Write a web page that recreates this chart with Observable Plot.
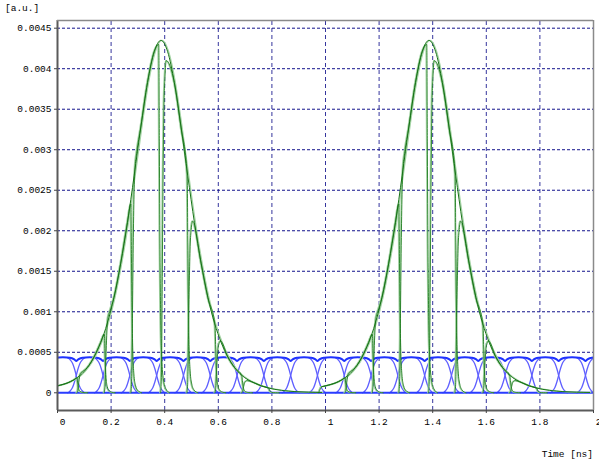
<!DOCTYPE html>
<html><head><meta charset="utf-8">
<script src="https://cdn.jsdelivr.net/npm/d3@7"></script>
<script src="https://cdn.jsdelivr.net/npm/@observablehq/plot@0.6"></script>
<style>
html,body{margin:0;padding:0;background:#fff;}
#chart{position:relative;width:599px;height:464px;font-family:"Liberation Mono",monospace;}
.lbl{position:absolute;font-size:9.5px;color:#000;white-space:nowrap;}
</style></head><body><div id="chart"></div>
<script>
// ---------- data ----------
const U = 1e-3; // values below in units of 0.001 a.u.
const xTicks = [0, 0.2, 0.4, 0.6, 0.8, 1, 1.2, 1.4, 1.6, 1.8, 2];
const xTickLabels = ["0", "0.2", "0.4", "0.6", "0.8", "1", "1.2", "1.4", "1.6", "1.8", "2"];
const yTicks = [0, 0.0005, 0.001, 0.0015, 0.002, 0.0025, 0.003, 0.0035, 0.004, 0.0045];
const yTickLabels = ["0", "0.0005", "0.001", "0.0015", "0.002", "0.0025", "0.003", "0.0035", "0.004", "0.0045"];

// green optical pulse envelope (time offset from pulse centre, ns) and power
const pulseCenters = [0.386, 1.386];
const envDt = [-0.40, -0.375, -0.35, -0.325, -0.30, -0.275, -0.25, -0.225, -0.20, -0.175, -0.15, -0.125, -0.10, -0.075, -0.05, -0.025, 0,
               0.025, 0.05, 0.075, 0.10, 0.125, 0.15, 0.175, 0.20, 0.225, 0.25, 0.275, 0.30, 0.325, 0.35, 0.375, 0.40, 0.45, 0.50, 0.55, 0.60];
const envV  = [0.075, 0.095, 0.12, 0.16, 0.22, 0.31, 0.44, 0.62, 0.86, 1.18, 1.60, 2.10, 2.68, 3.28, 3.83, 4.21, 4.35,
               4.21, 3.83, 3.28, 2.68, 2.10, 1.60, 1.18, 0.86, 0.62, 0.44, 0.31, 0.22, 0.16, 0.12, 0.085, 0.06, 0.03, 0.015, 0.008, 0.004];

// gated slices of the pulse (offsets from pulse centre)
const sliceStart  = [-0.411, -0.311, -0.209, -0.109, 0.002, 0.100, 0.204, 0.304];
const sliceEnd    = [-0.313, -0.211, -0.112, -0.008, 0.098, 0.202, 0.302, 0.402];
const sliceStartV = [0.08, 0.26, 1.00, 2.95, 4.10, 2.12, 0.64, 0.15];
const sliceEndV   = [0.185, 0.72, 2.33, 4.30, 2.70, 0.83, 0.21, 0.06];
const riseDt   = [-0.003, 0, 0.003, 0.006, 0.009, 0.013, 0.018];
const riseFrac = [0, 0.06, 0.35, 0.65, 0.85, 0.95, 1];
const fallDt   = [0, 0.002, 0.004, 0.007, 0.011, 0.017, 0.026, 0.04];
const fallFrac = [1, 0.72, 0.45, 0.22, 0.10, 0.04, 0.012, 0];

// blue clock-like signal: bit crossings, edge shape and top level
const bitCrossings = [-0.03, 0.07, 0.17, 0.27, 0.37, 0.47, 0.57, 0.67, 0.77, 0.87, 0.97,
                      1.07, 1.17, 1.27, 1.37, 1.47, 1.57, 1.67, 1.77, 1.87, 1.97];
const edgeDt = [-0.032, -0.028, -0.022, -0.014, -0.007, 0, 0.007, 0.014, 0.022, 0.028, 0.032];
const edgeV  = [0, 0.006, 0.025, 0.065, 0.13, 0.215, 0.30, 0.365, 0.405, 0.424, 0.43];
const topDt = [0, 0.004, 0.009, 0.016, 0.025, 0.035, 0.05, 0.065, 0.075, 0.084, 0.091, 0.096];
const topV  = [0.392, 0.402, 0.415, 0.426, 0.433, 0.437, 0.438, 0.437, 0.433, 0.426, 0.415, 0.402];

// ---------- build rows ----------
const envRows = [], sliceRows = [];
pulseCenters.forEach((c, p) => {
  envDt.forEach((d, i) => envRows.push({x: c + d, y: envV[i] * U, id: "e" + p}));
  sliceStart.forEach((s, j) => {
    const id = "s" + p + "_" + j, e = sliceEnd[j];
    riseDt.forEach((d, k) => sliceRows.push({x: c + s + d, y: riseFrac[k] * sliceStartV[j] * U, id}));
    envDt.forEach((d, i) => { if (d > s + 0.025 && d < e - 0.002) sliceRows.push({x: c + d, y: envV[i] * U, id}); });
    fallDt.forEach((d, k) => sliceRows.push({x: c + e + d, y: fallFrac[k] * sliceEndV[j] * U, id}));
  });
});
const edgeRows = [];
bitCrossings.forEach((c, b) => {
  edgeDt.forEach((d, k) => edgeRows.push({x: c + d, y: edgeV[k] * U, id: "r" + b}));
  edgeDt.forEach((d, k) => edgeRows.push({x: c + d, y: edgeV[edgeV.length - 1 - k] * U, id: "f" + b}));
});
const topRows = [];
bitCrossings.forEach(c => topDt.forEach((d, k) => topRows.push({x: c + d, y: topV[k] * U})));
topRows.push({x: 2.07, y: topV[0] * U});

const shift = (rows, dx) => rows.map(r => ({...r, x: r.x + dx}));

const xMin = 0, xMax = 2, yMin = -0.0002185, yMax = 0.004595;
const fmtX = d => xTickLabels[xTicks.indexOf(d)];
const fmtY = d => yTickLabels[yTicks.indexOf(d)];
const gridC = "#12128c";

const chart = Plot.plot({
  width: 599, height: 464,
  marginLeft: 57, marginRight: 6, marginTop: 20, marginBottom: 54,
  style: {fontFamily: "'Liberation Mono', monospace", fontSize: "9.5px", color: "#000", background: "#fff"},
  x: {domain: [xMin, xMax], label: null},
  y: {domain: [yMin, yMax], label: null},
  marks: [
    Plot.ruleY(yTicks.slice(1), {stroke: gridC, strokeWidth: 1, strokeDasharray: "3,2", x1: xMin, x2: xMax}),
    Plot.ruleX(xTicks.slice(1, -1), {stroke: gridC, strokeOpacity: 0.85, strokeWidth: 1, strokeDasharray: "4,3", y1: yMin, y2: yMax}),
    // blue signal
    Plot.line(edgeRows, {x: "x", y: "y", z: "id", stroke: "#5f5fff", strokeWidth: 1.3, curve: "monotone-x", clip: true}),
    Plot.line(topRows, {x: "x", y: "y", stroke: "#1e32ff", strokeWidth: 2, curve: "monotone-x", clip: true}),
    Plot.ruleY([0], {stroke: "#2a3cff", strokeWidth: 2, x1: xMin, x2: xMax}),
    // green pulses
    Plot.line(shift(sliceRows, -0.003), {x: "x", y: "y", z: "id", stroke: "#a3d3a3", strokeWidth: 1.3, curve: "monotone-x", clip: true}),
    Plot.line(shift(envRows, 0.004), {x: "x", y: "y", z: "id", stroke: "#a3d3a3", strokeWidth: 1.2, curve: "monotone-x", clip: true}),
    Plot.line(sliceRows, {x: "x", y: "y", z: "id", stroke: "#1f7d1f", strokeWidth: 0.9, curve: "monotone-x", clip: true}),
    Plot.line(envRows, {x: "x", y: "y", z: "id", stroke: "#177217", strokeWidth: 1, curve: "monotone-x", clip: true}),
    // frame
    Plot.ruleX([xMin], {stroke: "#5a5a5a", strokeWidth: 2, y1: yMin, y2: yMax}),
    Plot.ruleY([yMin], {stroke: "#5a5a5a", strokeWidth: 2, x1: xMin, x2: xMax}),
    Plot.ruleY([yMax], {stroke: "#8a8a8a", strokeWidth: 1.5, x1: xMin, x2: xMax}),
    Plot.ruleX([xMax], {stroke: "#8a8a8a", strokeWidth: 1.5, y1: yMin, y2: yMax}),
    // axes
    Plot.axisY({ticks: yTicks, tickSize: 3, tickPadding: 3, tickFormat: fmtY, stroke: "#444", label: null}),
    Plot.axisX({ticks: xTicks, anchor: "bottom", tickSize: 3, tickFormat: () => "", stroke: "#444", label: null}),
    Plot.axisX({ticks: xTicks.filter(d => fmtX(d).length > 1), anchor: "bottom", tickSize: 0, tickPadding: 8, tickFormat: fmtX, label: null}),
    Plot.axisX({ticks: xTicks.filter(d => fmtX(d).length === 1), anchor: "bottom", tickSize: 0, tickPadding: 8, dx: 5, tickFormat: fmtX, label: null})
  ]
});
const host = document.getElementById("chart");
host.appendChild(chart);
const a = document.createElement("div"); a.className = "lbl"; a.textContent = "[a.u.]";
a.style.left = "5px"; a.style.top = "3px"; host.appendChild(a);
const t = document.createElement("div"); t.className = "lbl"; t.textContent = "Time [ns]";
t.style.right = "6px"; t.style.top = "449px"; host.appendChild(t);
</script></body></html>
